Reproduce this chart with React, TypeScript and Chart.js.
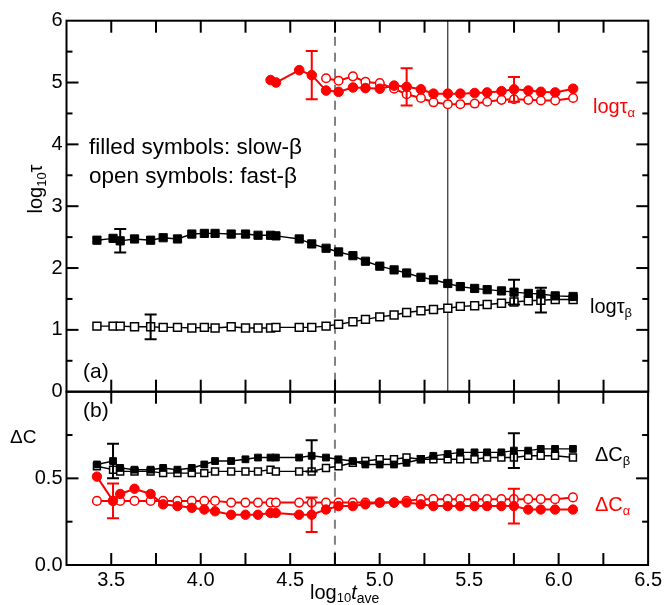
import React, { useEffect, useRef } from 'react';
import { Chart, registerables } from 'chart.js';
Chart.register(...registerables);

// ---------------- data ----------------
const logTave = [3.42, 3.51, 3.55, 3.63, 3.72, 3.79, 3.87, 3.95, 4.02, 4.08, 4.17, 4.25, 4.32, 4.39, 4.42, 4.55, 4.62, 4.70, 4.77, 4.85, 4.92, 5.00, 5.08, 5.15, 5.23, 5.30, 5.38, 5.45, 5.53, 5.60, 5.68, 5.75, 5.83, 5.90, 5.98, 6.08];

// panel (a): log10 tau
const logTauSlowBeta = [2.45, 2.48, 2.44, 2.47, 2.45, 2.49, 2.47, 2.55, 2.56, 2.56, 2.55, 2.55, 2.53, 2.53, 2.52, 2.47, 2.39, 2.32, 2.26, 2.20, 2.11, 2.03, 1.97, 1.92, 1.85, 1.81, 1.75, 1.70, 1.67, 1.65, 1.63, 1.61, 1.59, 1.58, 1.55, 1.54];
const logTauFastBeta = [1.06, 1.06, 1.06, 1.05, 1.05, 1.04, 1.04, 1.03, 1.04, 1.03, 1.05, 1.03, 1.03, 1.03, 1.04, 1.04, 1.04, 1.06, 1.09, 1.13, 1.17, 1.21, 1.24, 1.28, 1.31, 1.33, 1.35, 1.38, 1.39, 1.41, 1.43, 1.45, 1.47, 1.48, 1.49, 1.49];
const slowAlphaStart = 13; // first logTave index of slow-alpha tau data
const logTauSlowAlpha = [5.04, 5.00, 5.20, 5.12, 4.87, 4.85, 4.92, 4.91, 4.90, 4.95, 4.93, 4.89, 4.82, 4.82, 4.82, 4.83, 4.84, 4.86, 4.89, 4.87, 4.85, 4.84, 4.90];
const fastAlphaStart = 17; // first logTave index of fast-alpha tau data
const logTauFastAlpha = [5.07, 5.03, 5.10, 5.01, 4.99, 4.90, 4.81, 4.75, 4.68, 4.65, 4.65, 4.66, 4.69, 4.72, 4.73, 4.72, 4.71, 4.71, 4.75];

// panel (b): Delta C
const dCSlowBeta = [0.58, 0.60, 0.56, 0.55, 0.55, 0.56, 0.55, 0.56, 0.58, 0.60, 0.60, 0.61, 0.62, 0.62, 0.62, 0.62, 0.63, 0.62, 0.61, 0.60, 0.58, 0.58, 0.58, 0.59, 0.61, 0.63, 0.64, 0.65, 0.65, 0.65, 0.65, 0.66, 0.66, 0.67, 0.67, 0.67];
const dCFastBeta = [0.57, 0.55, 0.54, 0.54, 0.54, 0.53, 0.53, 0.53, 0.53, 0.54, 0.54, 0.54, 0.54, 0.55, 0.54, 0.54, 0.54, 0.56, 0.57, 0.59, 0.60, 0.61, 0.61, 0.62, 0.61, 0.61, 0.61, 0.61, 0.61, 0.62, 0.62, 0.62, 0.63, 0.63, 0.63, 0.62];
const dCSlowAlpha = [0.51, 0.37, 0.41, 0.44, 0.41, 0.35, 0.34, 0.33, 0.32, 0.31, 0.29, 0.29, 0.29, 0.30, 0.30, 0.29, 0.29, 0.32, 0.34, 0.34, 0.35, 0.36, 0.36, 0.36, 0.35, 0.34, 0.34, 0.34, 0.34, 0.34, 0.34, 0.34, 0.32, 0.32, 0.32, 0.32];
const dCFastAlpha = [0.37, 0.37, 0.37, 0.37, 0.37, 0.37, 0.37, 0.37, 0.37, 0.37, 0.36, 0.36, 0.36, 0.36, 0.36, 0.36, 0.36, 0.36, 0.36, 0.36, 0.36, 0.36, 0.36, 0.37, 0.38, 0.38, 0.38, 0.38, 0.38, 0.38, 0.38, 0.38, 0.38, 0.38, 0.38, 0.39];

// error bars: [point index within series, half width]
const errTauSlowBeta = [[2, 0.19], [31, 0.2]];
const errTauFastBeta = [[4, 0.2], [33, 0.2]];
const errTauSlowAlpha = [[3, 0.39], [10, 0.3], [18, 0.2]];
const errDCSlowBeta = [[1, 0.1], [16, 0.09], [31, 0.1]];
const errDCFastAlpha = [[1, 0.1]];
const errDCSlowAlpha = [[16, 0.1], [31, 0.1]];

const xMin = 3.25;
const xMax = 6.5;
const xTickStep = 0.25;
const tauMin = 0;
const tauMax = 6;
const dCMin = 0;
const dCMax = 1;
const dashedLineX = 4.75;
const solidLineX = 5.38;

// ---------------- styling helpers ----------------
const FONT = '"Liberation Sans", Arial, Helvetica, sans-serif';
const RED = '#ff0000';
const BLACK = '#000000';
const GRAY = '#808080';

const pts = (ys: number[], offset = 0) => ys.map((y, i) => ({ x: logTave[i + offset], y }));

type Seg = { t: string; size: number; dy?: number; italic?: boolean };
function drawSegs(ctx: CanvasRenderingContext2D, segs: Seg[], x: number, y: number, color: string, align: 'left' | 'center' = 'left') {
  ctx.save();
  ctx.fillStyle = color;
  ctx.textBaseline = 'alphabetic';
  ctx.textAlign = 'left';
  const fontOf = (s: Seg) => `${s.italic ? 'italic ' : ''}${s.size}px ${FONT}`;
  let total = 0;
  for (const s of segs) { ctx.font = fontOf(s); total += ctx.measureText(s.t).width; }
  let cx = align === 'center' ? x - total / 2 : x;
  for (const s of segs) {
    ctx.font = fontOf(s);
    ctx.fillText(s.t, cx, y + (s.dy || 0));
    cx += ctx.measureText(s.t).width;
  }
  ctx.restore();
}

function series(label: string, data: any[], color: string, filled: boolean, style: string, radius: number, lineWidth: number, errors: number[][] = []) {
  return {
    label,
    data,
    borderColor: color,
    backgroundColor: color,
    borderWidth: lineWidth,
    pointStyle: style,
    pointRadius: radius,
    pointBackgroundColor: filled ? color : '#ffffff',
    pointBorderColor: color,
    pointBorderWidth: filled ? 1 : 1.5,
    tension: 0,
    showLine: true,
    errorBars: errors,
  } as any;
}

function drawFrameTicks(ctx: any, a: any, sx: any, sy: any, yMin: number, yMax: number, yMajor: number, yMinor: number) {
  ctx.save();
  ctx.fillStyle = BLACK;
  const nx = Math.round((xMax - xMin) / xTickStep);
  for (let k = 1; k < nx; k++) {
    const px = sx.getPixelForValue(xMin + k * xTickStep);
    ctx.fillRect(px - 1, a.top, 2, 12);
    ctx.fillRect(px - 1, a.bottom - 12, 2, 12);
  }
  const ny = Math.round((yMax - yMin) / yMinor);
  for (let k = 1; k < ny; k++) {
    const v = yMin + k * yMinor;
    const r = v / yMajor;
    const len = Math.abs(r - Math.round(r)) < 1e-6 ? 12 : 6;
    const py = sy.getPixelForValue(v);
    ctx.fillRect(a.left, py - 1, len, 2);
    ctx.fillRect(a.right - len, py - 1, len, 2);
  }
  ctx.strokeStyle = BLACK;
  ctx.lineWidth = 2;
  ctx.strokeRect(a.left, a.top, a.right - a.left, a.bottom - a.top);
  ctx.restore();
}

function makePlugin(opts: { yMin: number; yMax: number; yMajor: number; yMinor: number; solid: boolean; texts: (ctx: CanvasRenderingContext2D) => void }) {
  return {
    id: 'panelDecor',
    beforeDatasetsDraw(chart: any) {
      const ctx = chart.ctx;
      const a = chart.chartArea;
      const sx = chart.scales.x;
      ctx.save();
      ctx.strokeStyle = GRAY;
      ctx.lineWidth = 2;
      ctx.setLineDash([9, 7]);
      const xd = sx.getPixelForValue(dashedLineX);
      ctx.beginPath(); ctx.moveTo(xd, a.top); ctx.lineTo(xd, a.bottom); ctx.stroke();
      ctx.setLineDash([]);
      if (opts.solid) {
        ctx.strokeStyle = BLACK;
        ctx.lineWidth = 1;
        const xs = sx.getPixelForValue(solidLineX);
        ctx.beginPath(); ctx.moveTo(xs, a.top); ctx.lineTo(xs, a.bottom); ctx.stroke();
      }
      ctx.restore();
    },
    afterDatasetsDraw(chart: any) {
      const ctx = chart.ctx;
      const sx = chart.scales.x;
      const sy = chart.scales.y;
      chart.data.datasets.forEach((ds: any) => {
        (ds.errorBars || []).forEach(([i, e]: number[]) => {
          const p = ds.data[i];
          const x = sx.getPixelForValue(p.x);
          const y1 = sy.getPixelForValue(p.y - e);
          const y2 = sy.getPixelForValue(p.y + e);
          ctx.save();
          ctx.strokeStyle = ds.borderColor;
          ctx.lineWidth = 2;
          ctx.beginPath();
          ctx.moveTo(x, y1); ctx.lineTo(x, y2);
          ctx.moveTo(x - 6, y1); ctx.lineTo(x + 6, y1);
          ctx.moveTo(x - 6, y2); ctx.lineTo(x + 6, y2);
          ctx.stroke();
          ctx.restore();
        });
      });
    },
    afterDraw(chart: any) {
      drawFrameTicks(chart.ctx, chart.chartArea, chart.scales.x, chart.scales.y, opts.yMin, opts.yMax, opts.yMajor, opts.yMinor);
      opts.texts(chart.ctx);
    },
  };
}

const tickFont = { family: FONT, size: 20 };

export default function App() {
  const refA = useRef<HTMLCanvasElement>(null);
  const refB = useRef<HTMLCanvasElement>(null);

  useEffect(() => {
    const chartA = new Chart(refA.current as HTMLCanvasElement, {
      type: 'line',
      data: {
        datasets: [
          series('slow-β τ', pts(logTauSlowBeta), BLACK, true, 'rect', 5.8, 1.4, errTauSlowBeta),
          series('fast-β τ', pts(logTauFastBeta), BLACK, false, 'rect', 5.6, 1.4, errTauFastBeta),
          series('slow-α τ', pts(logTauSlowAlpha, slowAlphaStart), RED, true, 'circle', 4.8, 2, errTauSlowAlpha),
          series('fast-α τ', pts(logTauFastAlpha, fastAlphaStart), RED, false, 'circle', 4.3, 2),
        ],
      },
      options: {
        responsive: false,
        devicePixelRatio: 1,
        animation: false,
        events: [],
        layout: { padding: { left: 0, top: 20.7, right: 16.7, bottom: 213.3 } },
        plugins: { legend: { display: false }, tooltip: { enabled: false } },
        scales: {
          x: { type: 'linear', min: xMin, max: xMax, display: false },
          y: {
            type: 'linear', min: tauMin, max: tauMax,
            grid: { display: false, drawTicks: false },
            border: { display: false },
            ticks: { stepSize: 1, font: tickFont, color: BLACK, padding: 4, autoSkip: false },
            afterFit: (s: any) => { s.width = 66.5; },
          },
        },
      },
      plugins: [makePlugin({
        yMin: tauMin, yMax: tauMax, yMajor: 1, yMinor: 0.5, solid: true,
        texts: (ctx) => {
          ctx.save();
          ctx.translate(42, 189);
          ctx.rotate(-Math.PI / 2);
          drawSegs(ctx, [{ t: 'log', size: 20 }, { t: '10', size: 13, dy: 4 }, { t: 'τ', size: 20 }], 0, 0, BLACK, 'center');
          ctx.restore();
          drawSegs(ctx, [{ t: 'filled symbols: slow-β', size: 22.5 }], 89, 154, BLACK);
          drawSegs(ctx, [{ t: 'open symbols: fast-β', size: 22.5 }], 89, 183, BLACK);
          drawSegs(ctx, [{ t: '(a)', size: 21 }], 83, 378, BLACK);
          drawSegs(ctx, [{ t: 'log', size: 20 }, { t: 'τ', size: 20 }, { t: 'α', size: 13, dy: 4 }], 593, 112.5, RED);
          drawSegs(ctx, [{ t: 'log', size: 20 }, { t: 'τ', size: 20 }, { t: 'β', size: 13, dy: 4 }], 590, 312.5, BLACK);
        },
      })],
    } as any);

    const chartB = new Chart(refB.current as HTMLCanvasElement, {
      type: 'line',
      data: {
        datasets: [
          series('slow-β ΔC', pts(dCSlowBeta), BLACK, true, 'rect', 4.8, 1.4, errDCSlowBeta),
          series('fast-β ΔC', pts(dCFastBeta), BLACK, false, 'rect', 4.9, 1.4),
          series('slow-α ΔC', pts(dCSlowAlpha), RED, true, 'circle', 4.7, 2, errDCSlowAlpha),
          series('fast-α ΔC', pts(dCFastAlpha), RED, false, 'circle', 4.3, 2, errDCFastAlpha),
        ],
      },
      options: {
        responsive: false,
        devicePixelRatio: 1,
        animation: false,
        events: [],
        layout: { padding: { left: 0, top: 391.7, right: 16.7, bottom: 0 } },
        plugins: { legend: { display: false }, tooltip: { enabled: false } },
        scales: {
          x: {
            type: 'linear', min: xMin, max: xMax,
            grid: { display: false, drawTicks: false },
            border: { display: false },
            ticks: {
              stepSize: 0.5, includeBounds: false, font: tickFont, color: BLACK, padding: 3,
              autoSkip: false, maxRotation: 0,
              callback: (v: any) => (Math.abs(v * 2 - Math.round(v * 2)) < 1e-6 ? Number(v).toFixed(1) : ''),
            },
            afterFit: (s: any) => { s.height = 40; },
          },
          y: {
            type: 'linear', min: dCMin, max: dCMax,
            grid: { display: false, drawTicks: false },
            border: { display: false },
            ticks: {
              stepSize: 0.5, font: tickFont, color: BLACK, padding: 4, autoSkip: false,
              callback: (v: any) => (v >= dCMax - 1e-6 ? '' : Number(v).toFixed(1)),
            },
            afterFit: (s: any) => { s.width = 66.5; },
          },
        },
      },
      plugins: [makePlugin({
        yMin: dCMin, yMax: dCMax, yMajor: 0.5, yMinor: 0.25, solid: false,
        texts: (ctx) => {
          drawSegs(ctx, [{ t: '(b)', size: 21 }], 83, 417, BLACK);
          drawSegs(ctx, [{ t: 'ΔC', size: 19 }], 10, 443, BLACK);
          drawSegs(ctx, [{ t: 'ΔC', size: 20 }, { t: 'β', size: 13, dy: 4 }], 595, 460.5, BLACK);
          drawSegs(ctx, [{ t: 'ΔC', size: 20 }, { t: 'α', size: 13, dy: 4 }], 595, 511, RED);
          drawSegs(ctx, [{ t: 'log', size: 20 }, { t: '10', size: 13, dy: 3 }, { t: 't', size: 20, italic: true }, { t: 'ave', size: 14, dy: 4 }], 310, 599, BLACK);
        },
      })],
    } as any);

    return () => { chartA.destroy(); chartB.destroy(); };
  }, []);

  return (
    <div style={{ position: 'absolute', left: 0, top: 0, width: 665, height: 605, background: '#ffffff' }}>
      <canvas ref={refA} width={665} height={605} style={{ position: 'absolute', left: 0, top: 0 }} />
      <canvas ref={refB} width={665} height={605} style={{ position: 'absolute', left: 0, top: 0 }} />
    </div>
  );
}
